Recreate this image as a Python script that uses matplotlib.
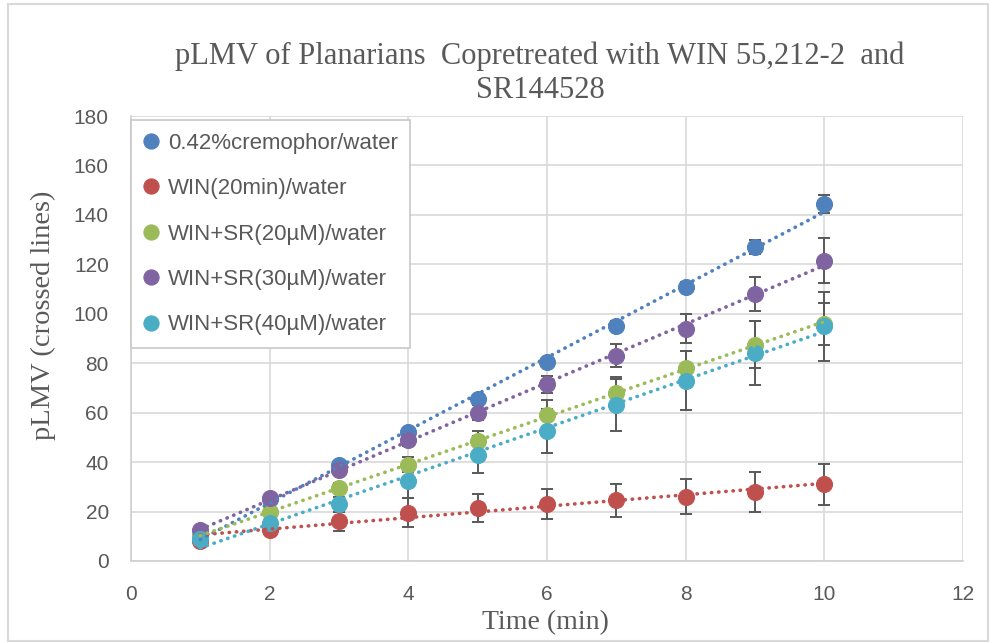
import numpy as np
import matplotlib
matplotlib.use("Agg")
import matplotlib.pyplot as plt
from matplotlib.patches import Rectangle

# ---- data ----
time_min = [1, 2, 3, 4, 5, 6, 7, 8, 9, 10]
series_names = ["0.42%cremophor/water", "WIN(20min)/water", "WIN+SR(20\u00b5M)/water",
                "WIN+SR(30\u00b5M)/water", "WIN+SR(40\u00b5M)/water"]
cremophor = [10, 25, 39, 52, 65.5, 80.5, 95, 111, 127, 144.5]
win20 = [8, 12.5, 16, 19.5, 21.5, 23, 24.5, 26, 28, 31]
sr20 = [10, 20, 29.5, 39, 48.5, 59, 68, 78, 87.5, 96]
sr30 = [12.5, 25.5, 37, 49, 60, 71.5, 83, 94, 108, 121.5]
sr40 = [9, 15.5, 23, 32.5, 43, 52.5, 63, 73, 84, 95]

err_cremophor = [1, 1, 1, 1.5, 1.5, 1.5, 2, 2, 3, 3.7]
err_win20 = [1, 2, 4, 5.8, 5.7, 6, 6.7, 7, 8, 8.3]
err_sr20 = [1, 1.5, 2, 3, 4, 6, 6.5, 7, 9.5, 8.5]
err_sr30 = [1, 1.5, 2, 2.5, 3, 3.5, 4.7, 6, 7, 9]
err_sr40 = [1, 2, 3, 7, 7.5, 9, 10.5, 12, 13, 14]

x_ticks = [0, 2, 4, 6, 8, 10, 12]
y_ticks = [0, 20, 40, 60, 80, 100, 120, 140, 160, 180]

colors = ["#4F81BD", "#C0504D", "#9BBB59", "#8064A2", "#4BACC6"]
values = [cremophor, win20, sr20, sr30, sr40]
errors = [err_cremophor, err_win20, err_sr20, err_sr30, err_sr40]

fig = plt.figure(figsize=(9.95, 6.43), dpi=100)
ax = fig.add_axes([131/995, 1-561/643, (963-131)/995, (561-116)/643])

x = np.array(time_min, dtype=float)
handles = []
for i, (vals, errs, c, name) in enumerate(zip(values, errors, colors, series_names)):
    y = np.array(vals, dtype=float)
    ax.errorbar(x, y, yerr=errs, fmt='none', ecolor='#595959', elinewidth=1.4,
                capsize=4.3, capthick=1.4, zorder=2 + i*0.1)
    h, = ax.plot(x, y, 'o', color=c, markersize=11.5, markeredgecolor=c,
                 markeredgewidth=0.8, zorder=3 + i*0.1, label=name, linestyle='none')
    handles.append(h)
    coef = np.polyfit(x, y, 1)
    xf = np.array([x.min(), x.max()])
    ax.plot(xf, np.polyval(coef, xf), linestyle=(0, (0.1, 1.9)), color=c,
            linewidth=2.6, dash_capstyle='round', zorder=4 + i*0.1)

ax.set_xlim(0, 12)
ax.set_ylim(0, 180)
ax.set_xticks(x_ticks)
ax.set_yticks(y_ticks)
ax.set_xticklabels([str(t) for t in x_ticks], family='Liberation Sans', fontsize=15, color='#595959')
ax.set_yticklabels([str(t) for t in y_ticks], family='Liberation Sans', fontsize=15, color='#595959')
ax.tick_params(axis='y', length=0, pad=16)
ax.tick_params(axis='x', length=0, pad=17)
ax.grid(True, color='#d9d9d9', linewidth=1.2)
ax.set_axisbelow(True)
for s in ax.spines.values():
    s.set_visible(False)
ax.spines['left'].set_visible(True)
ax.spines['bottom'].set_visible(True)
ax.spines['left'].set_color('#d0d0d0')
ax.spines['bottom'].set_color('#d0d0d0')
ax.spines['left'].set_linewidth(1.2)
ax.spines['bottom'].set_linewidth(1.2)

ax.set_xlabel("Time (min)", family='Liberation Serif', fontsize=20, color='#595959')
ax.xaxis.set_label_coords((545-131)/(963-131), (561-610)/(561-116))
ax.set_ylabel("pLMV (crossed lines)", family='Liberation Serif', fontsize=20.5, color='#595959')
ax.yaxis.set_label_coords((56-131)/(963-131), (561-315)/(561-116))

fig.text(540/995, 1-56/643, "pLMV of Planarians  Copretreated with WIN 55,212-2  and",
         ha='center', va='center', family='Liberation Serif', fontsize=22, color='#595959')
fig.text(540/995, 1-91/643, "SR144528",
         ha='center', va='center', family='Liberation Serif', fontsize=22, color='#595959')

leg = ax.legend(handles=handles, loc='upper left', bbox_to_anchor=(0.0, 0.99),
                prop={'family': 'Liberation Sans', 'size': 16}, labelcolor='#595959',
                frameon=True, fancybox=False, edgecolor='#c8c8c8', framealpha=1,
                handlelength=0.7, handletextpad=0.4, labelspacing=1.1,
                borderpad=0.55, markerscale=0.95, borderaxespad=0.0)
leg.get_frame().set_linewidth(1.2)
leg.set_zorder(10)

fig.patches.append(Rectangle((8/995, 2/643), 980/995, 637/643, transform=fig.transFigure,
                             fill=False, edgecolor='#d9d9d9', linewidth=1.5))

fig.savefig("out.png", dpi=100, facecolor='white')
